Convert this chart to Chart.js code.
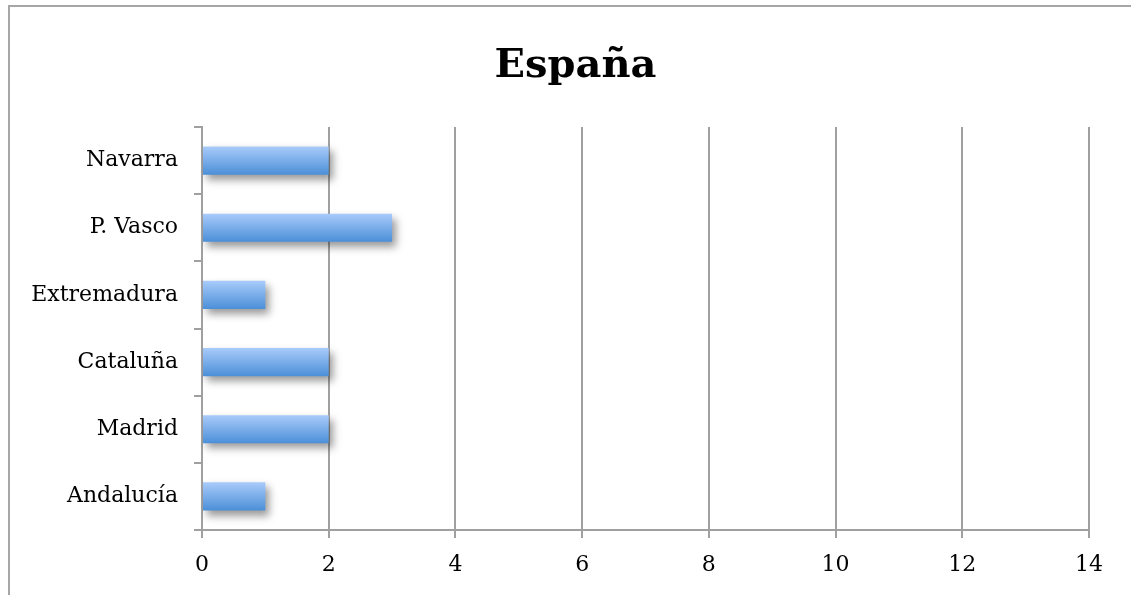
<!DOCTYPE html>
<html>
<head>
<meta charset="utf-8">
<script src="https://cdn.jsdelivr.net/npm/chart.js@4.4.1/dist/chart.umd.min.js"></script>
<style>
  html, body { margin: 0; padding: 0; background: #fff; }
  #wrap { width: 1131px; height: 595px; }
</style>
</head>
<body>
<div id="wrap"><canvas id="chart" width="1131" height="595"></canvas></div>
<script>
// datos
const regiones = ['Navarra', 'P. Vasco', 'Extremadura', 'Cataluña', 'Madrid', 'Andalucía'];
const valores = [2, 3, 1, 2, 2, 1];
const tituloGrafico = 'España';
const ejeMin = 0;
const ejeMax = 14;
const ejePaso = 2;

// marco gris del cuadro del gráfico
const marco = {
    id: 'marco',
    beforeDraw(chart) {
        const ctx = chart.ctx;
        ctx.save();
        ctx.strokeStyle = '#a6a6a6';
        ctx.lineWidth = 2;
        ctx.beginPath();
        ctx.moveTo(9, 595);
        ctx.lineTo(9, 6);
        ctx.lineTo(1131, 6);
        ctx.stroke();
        ctx.restore();
    },
    afterLayout(chart) {
        // deja sitio a las etiquetas largas del eje Y (sin recortar)
        chart.scales.y.left = 10;
    }
};

// sombra de las barras
const sombra = {
    id: 'sombra',
    beforeDatasetDraw(chart) {
        const ctx = chart.ctx;
        ctx.save();
        ctx.shadowColor = 'rgba(0, 0, 0, 0.4)';
        ctx.shadowBlur = 8;
        ctx.shadowOffsetX = 4;
        ctx.shadowOffsetY = 5;
    },
    afterDatasetDraw(chart) {
        chart.ctx.restore();
    }
};

function degradado(context) {
    const chart = context.chart;
    const area = chart.chartArea;
    const y = chart.scales.y;
    if (!area || !y || context.dataIndex === undefined) return '#7aaef0';
    const banda = (area.bottom - area.top) / regiones.length;
    const medio = banda * 0.42 / 2;
    const centro = y.getPixelForValue(context.dataIndex);
    const g = chart.ctx.createLinearGradient(0, centro - medio, 0, centro + medio);
    g.addColorStop(0, '#a9cbfa');
    g.addColorStop(1, '#4b8fd8');
    return g;
}

var ctx = document.getElementById('chart').getContext('2d');
var myChart = new Chart(ctx, {
    type: 'bar',
    data: {
        labels: regiones,
        datasets: [{
            data: valores,
            backgroundColor: degradado,
            borderWidth: 0,
            barPercentage: 0.42,
            categoryPercentage: 1
        }]
    },
    plugins: [marco, sombra],
    options: {
        indexAxis: 'y',
        responsive: false,
        animation: false,
        layout: {
            padding: { left: 62, right: 42, top: 0, bottom: 0 }
        },
        plugins: {
            legend: { display: false },
            tooltip: { enabled: false },
            title: {
                display: true,
                text: tituloGrafico,
                color: '#000',
                font: { family: 'DejaVu Serif', size: 40, weight: 'bold', lineHeight: 1.2 },
                padding: { top: 43, bottom: 36 }
            }
        },
        scales: {
            x: {
                min: ejeMin,
                max: ejeMax,
                ticks: {
                    stepSize: ejePaso,
                    color: '#000',
                    font: { family: 'DejaVu Serif', size: 22 },
                    padding: 14
                },
                grid: {
                    color: '#a0a0a0',
                    lineWidth: 2,
                    tickLength: 8,
                    drawOnChartArea: true
                },
                border: { color: '#a0a0a0', width: 2 },
                afterFit(scale) { scale.height = 65; }
            },
            y: {
                ticks: {
                    color: '#000',
                    font: { family: 'DejaVu Serif', size: 22 },
                    padding: 16
                },
                grid: {
                    color: '#a0a0a0',
                    lineWidth: 2,
                    tickLength: 8,
                    drawOnChartArea: false,
                    offset: true
                },
                border: { color: '#a0a0a0', width: 2 },
                afterFit(scale) { scale.width = 140; }
            }
        }
    }
});
</script>
</body>
</html>
